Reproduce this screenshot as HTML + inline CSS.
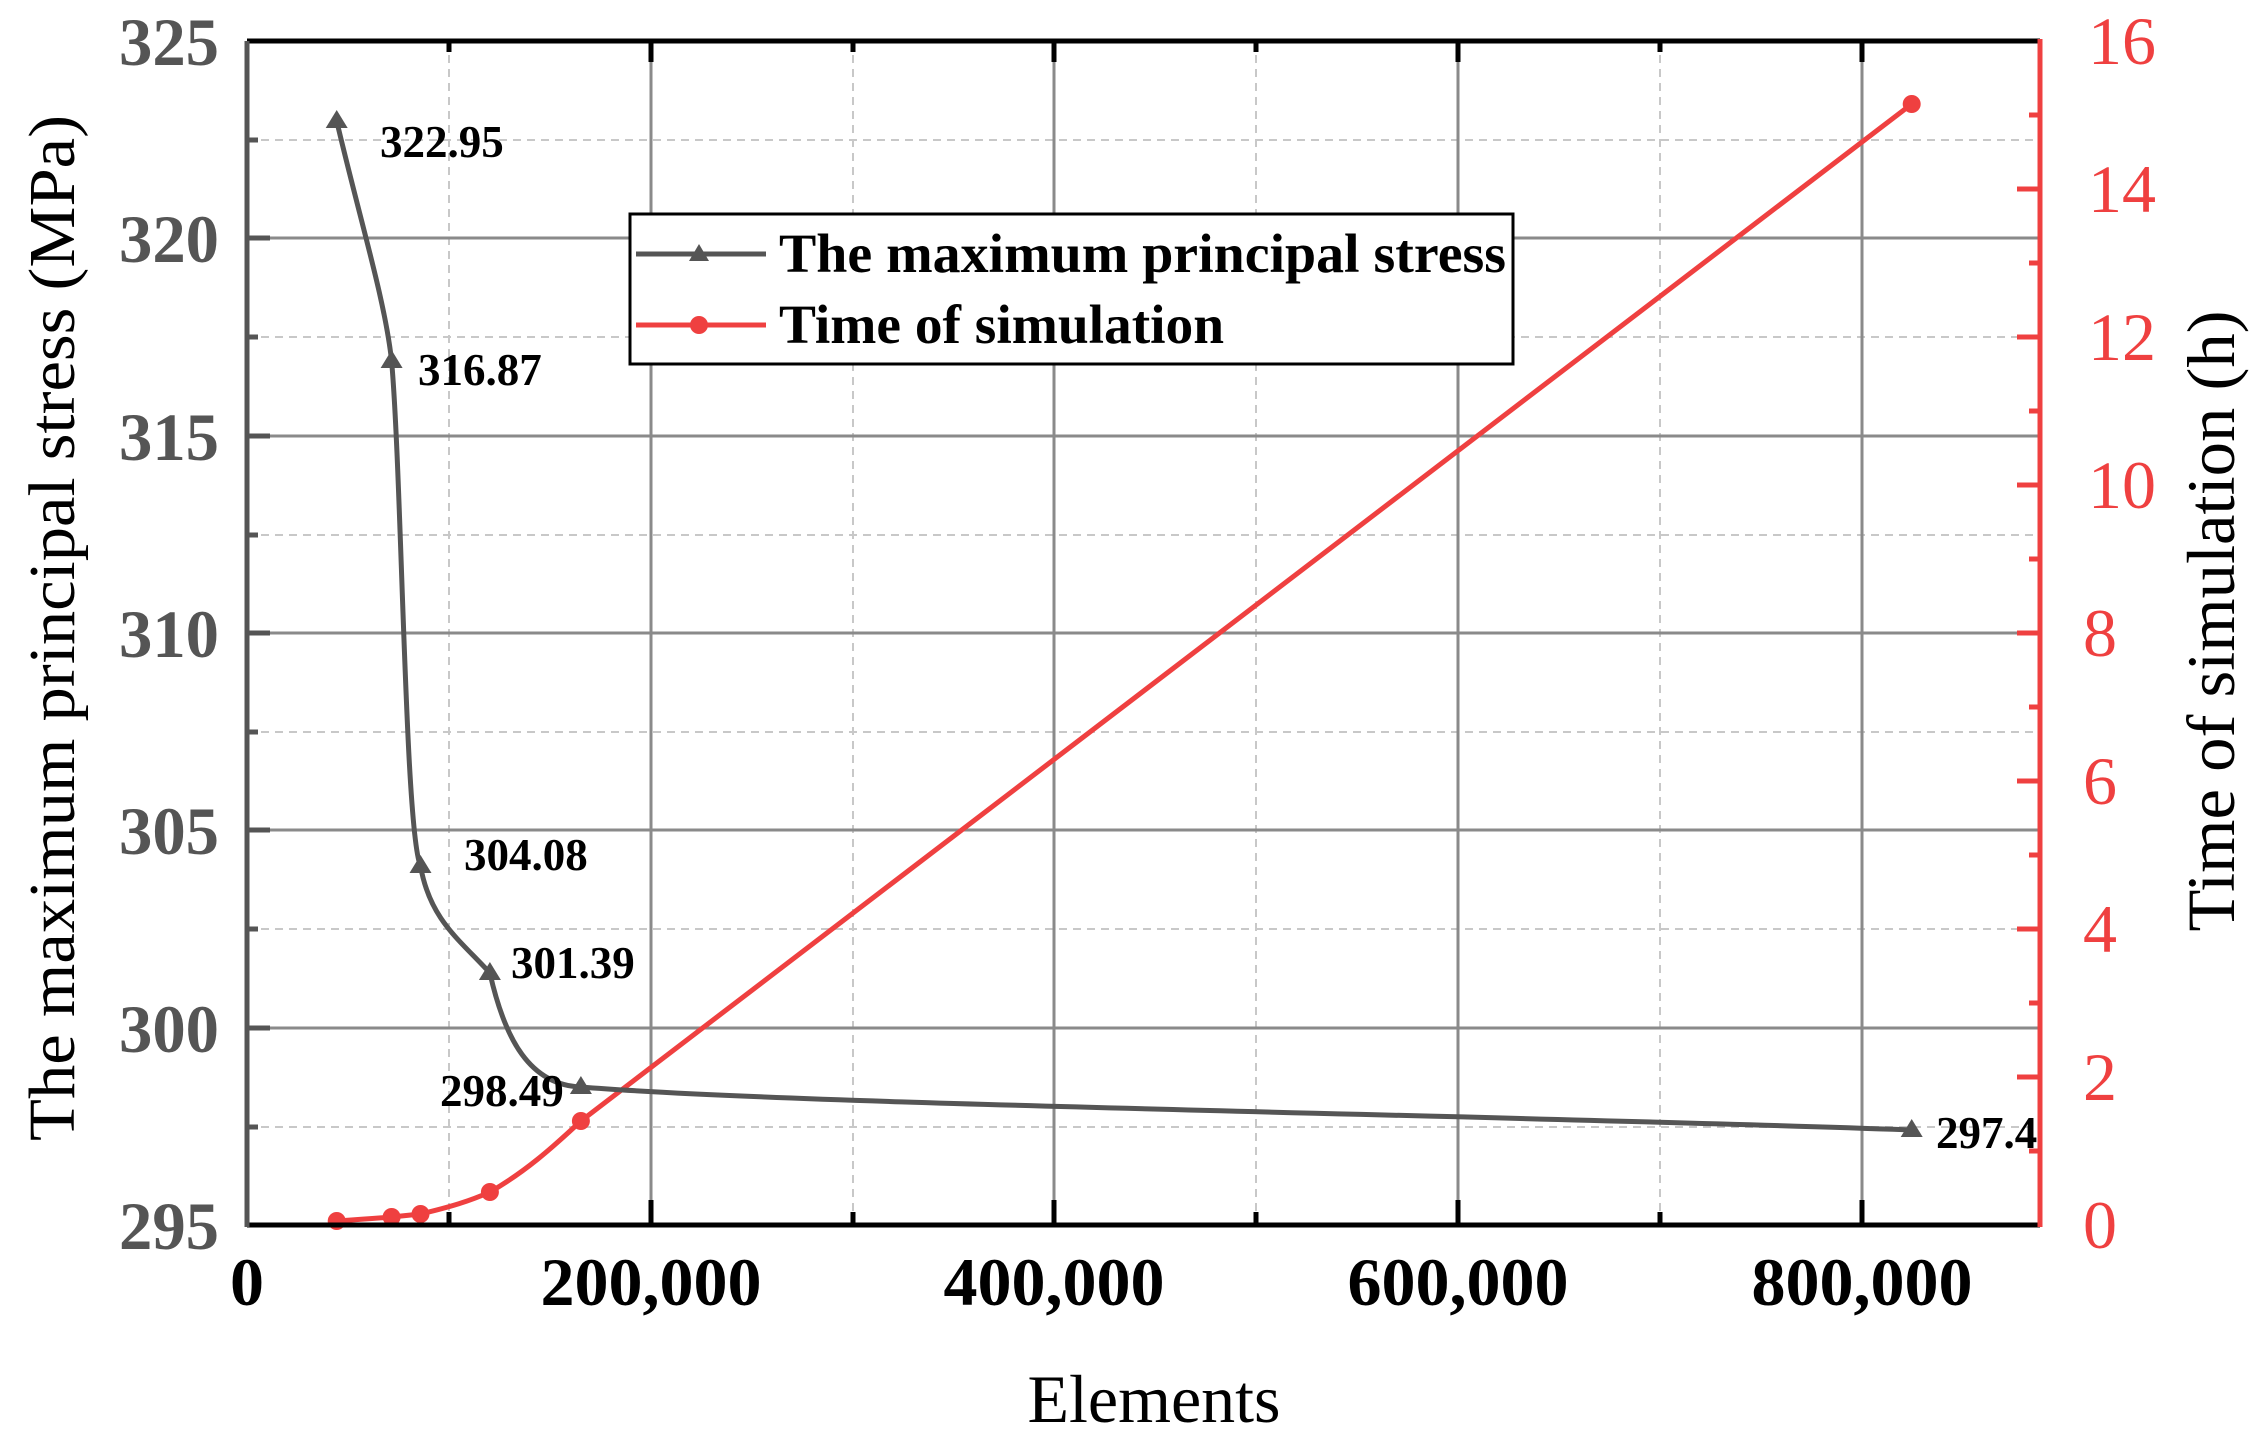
<!DOCTYPE html>
<html><head><meta charset="utf-8"><style>html,body{margin:0;padding:0;background:#fff}svg{display:block}</style></head>
<body>
<svg width="2266" height="1444" viewBox="0 0 2266 1444" xmlns="http://www.w3.org/2000/svg" font-family="Liberation Serif, serif">
<rect width="2266" height="1444" fill="#fff"/>
<g stroke="#c8c8c8" stroke-width="2" stroke-dasharray="8,6">
<line x1="449" y1="41" x2="449" y2="1225"/>
<line x1="853" y1="41" x2="853" y2="1225"/>
<line x1="1256" y1="41" x2="1256" y2="1225"/>
<line x1="1660" y1="41" x2="1660" y2="1225"/>
<line x1="247" y1="140" x2="2040" y2="140"/>
<line x1="247" y1="337" x2="2040" y2="337"/>
<line x1="247" y1="535" x2="2040" y2="535"/>
<line x1="247" y1="732" x2="2040" y2="732"/>
<line x1="247" y1="929" x2="2040" y2="929"/>
<line x1="247" y1="1127" x2="2040" y2="1127"/>
</g>
<g stroke="#8a8a8a" stroke-width="3">
<line x1="651" y1="41" x2="651" y2="1225"/>
<line x1="1054" y1="41" x2="1054" y2="1225"/>
<line x1="1458" y1="41" x2="1458" y2="1225"/>
<line x1="1862" y1="41" x2="1862" y2="1225"/>
<line x1="247" y1="238" x2="2040" y2="238"/>
<line x1="247" y1="436" x2="2040" y2="436"/>
<line x1="247" y1="633" x2="2040" y2="633"/>
<line x1="247" y1="830" x2="2040" y2="830"/>
<line x1="247" y1="1028" x2="2040" y2="1028"/>
</g>
<path d="M336.7,1221 C360,1219.5 380,1218 391.6,1217 L420.5,1214 C450,1207 470,1201 489.9,1192 C525,1172 552,1148 580.9,1121 L1911.7,104" fill="none" stroke="#ef4040" stroke-width="5"/>
<g fill="#ef4040">
<circle cx="336.7" cy="1221" r="9"/><circle cx="391.6" cy="1217" r="9"/><circle cx="420.5" cy="1214" r="9"/>
<circle cx="489.9" cy="1192" r="9"/><circle cx="580.9" cy="1121" r="9"/><circle cx="1911.7" cy="104" r="9"/>
</g>
<path d="M336.7,121 C360,220 385,300 391.6,361 C402,480 405,830 420.5,866 C430,920 460,940 489.9,973 C505,1040 530,1085 580.9,1087 C800,1105 1500,1115 1911.7,1130" fill="none" stroke="#555" stroke-width="5"/>
<g fill="#555">
<path d="M336.7,110 l-11,18 h22z"/><path d="M391.6,350 l-11,18 h22z"/><path d="M420.5,855 l-11,18 h22z"/>
<path d="M489.9,962 l-11,18 h22z"/><path d="M580.9,1076 l-11,18 h22z"/><path d="M1911.7,1119 l-11,18 h22z"/>
</g>
<g font-weight="bold" font-size="45" fill="#000">
<text x="380" y="157">322.95</text>
<text x="418" y="385">316.87</text>
<text x="464" y="870">304.08</text>
<text x="511" y="978">301.39</text>
<text x="440" y="1106">298.49</text>
<text x="1936" y="1148">297.4</text>
</g>
<line x1="247" y1="41" x2="2040" y2="41" stroke="#000" stroke-width="5"/>
<line x1="247" y1="1225" x2="2040" y2="1225" stroke="#000" stroke-width="5"/>
<line x1="247" y1="41" x2="247" y2="1227" stroke="#555" stroke-width="5"/>
<line x1="2040" y1="39" x2="2040" y2="1227" stroke="#ef4040" stroke-width="5"/>
<g stroke="#000" stroke-width="5">
<line x1="651" y1="1225" x2="651" y2="1200"/><line x1="1054" y1="1225" x2="1054" y2="1200"/>
<line x1="1458" y1="1225" x2="1458" y2="1200"/><line x1="1862" y1="1225" x2="1862" y2="1200"/>
<line x1="449" y1="1225" x2="449" y2="1212"/><line x1="853" y1="1225" x2="853" y2="1212"/>
<line x1="1256" y1="1225" x2="1256" y2="1212"/><line x1="1660" y1="1225" x2="1660" y2="1212"/>
<line x1="651" y1="41" x2="651" y2="62"/><line x1="1054" y1="41" x2="1054" y2="62"/>
<line x1="1458" y1="41" x2="1458" y2="62"/><line x1="1862" y1="41" x2="1862" y2="62"/>
<line x1="449" y1="41" x2="449" y2="52"/><line x1="853" y1="41" x2="853" y2="52"/>
<line x1="1256" y1="41" x2="1256" y2="52"/><line x1="1660" y1="41" x2="1660" y2="52"/>
</g>
<g stroke="#555" stroke-width="5">
<line x1="247" y1="238" x2="270" y2="238"/><line x1="247" y1="436" x2="270" y2="436"/>
<line x1="247" y1="633" x2="270" y2="633"/><line x1="247" y1="830" x2="270" y2="830"/>
<line x1="247" y1="1028" x2="270" y2="1028"/>
<line x1="247" y1="140" x2="258" y2="140"/><line x1="247" y1="337" x2="258" y2="337"/>
<line x1="247" y1="535" x2="258" y2="535"/><line x1="247" y1="732" x2="258" y2="732"/>
<line x1="247" y1="929" x2="258" y2="929"/><line x1="247" y1="1127" x2="258" y2="1127"/>
</g>
<g stroke="#ef4040" stroke-width="5">
<line x1="2040" y1="1077" x2="2017" y2="1077"/><line x1="2040" y1="929" x2="2017" y2="929"/>
<line x1="2040" y1="781" x2="2017" y2="781"/><line x1="2040" y1="633" x2="2017" y2="633"/>
<line x1="2040" y1="485" x2="2017" y2="485"/><line x1="2040" y1="337" x2="2017" y2="337"/>
<line x1="2040" y1="189" x2="2017" y2="189"/>
<line x1="2040" y1="1151" x2="2029" y2="1151"/><line x1="2040" y1="1003" x2="2029" y2="1003"/>
<line x1="2040" y1="855" x2="2029" y2="855"/><line x1="2040" y1="707" x2="2029" y2="707"/>
<line x1="2040" y1="559" x2="2029" y2="559"/><line x1="2040" y1="411" x2="2029" y2="411"/>
<line x1="2040" y1="263" x2="2029" y2="263"/><line x1="2040" y1="115" x2="2029" y2="115"/>
</g>
<g font-weight="bold" font-size="68" fill="#555" text-anchor="end">
<text x="219" y="65" textLength="100" lengthAdjust="spacingAndGlyphs">325</text><text x="219" y="262" textLength="100" lengthAdjust="spacingAndGlyphs">320</text><text x="219" y="460" textLength="100" lengthAdjust="spacingAndGlyphs">315</text>
<text x="219" y="657" textLength="100" lengthAdjust="spacingAndGlyphs">310</text><text x="219" y="854" textLength="100" lengthAdjust="spacingAndGlyphs">305</text><text x="219" y="1052" textLength="100" lengthAdjust="spacingAndGlyphs">300</text>
<text x="219" y="1249" textLength="100" lengthAdjust="spacingAndGlyphs">295</text>
</g>
<g font-size="68" fill="#ef4040">
<text x="2083" y="1248">0</text><text x="2083" y="1100">2</text><text x="2083" y="952">4</text>
<text x="2083" y="804">6</text><text x="2083" y="656">8</text><text x="2088" y="508">10</text>
<text x="2088" y="360">12</text><text x="2088" y="212">14</text><text x="2088" y="64">16</text>
</g>
<g font-weight="bold" font-size="68" fill="#000" text-anchor="middle">
<text x="247" y="1305">0</text><text x="651" y="1305">200,000</text><text x="1054" y="1305">400,000</text>
<text x="1458" y="1305">600,000</text><text x="1862" y="1305">800,000</text>
</g>
<text x="1154" y="1422" font-size="68" text-anchor="middle" fill="#000">Elements</text>
<text transform="translate(74,628) rotate(-90)" font-size="66" text-anchor="middle" textLength="1026" lengthAdjust="spacingAndGlyphs" fill="#000">The maximum principal stress (MPa)</text>
<text transform="translate(2234,621) rotate(-90)" font-size="68" text-anchor="middle" textLength="621" lengthAdjust="spacingAndGlyphs" fill="#000">Time of simulation (h)</text>
<rect x="630" y="214" width="883" height="150" fill="#fff" stroke="#000" stroke-width="3"/>
<line x1="636" y1="254" x2="766" y2="254" stroke="#555" stroke-width="5"/>
<path d="M699,244 l-10,17 h20z" fill="#555"/>
<line x1="636" y1="325" x2="766" y2="325" stroke="#ef4040" stroke-width="5"/>
<circle cx="699" cy="325" r="9" fill="#ef4040"/>
<g font-weight="bold" font-size="55" fill="#000">
<text x="779" y="272" textLength="727" lengthAdjust="spacingAndGlyphs">The maximum principal stress</text>
<text x="779" y="343" textLength="445" lengthAdjust="spacingAndGlyphs">Time of simulation</text>
</g>
</svg>
</body></html>
